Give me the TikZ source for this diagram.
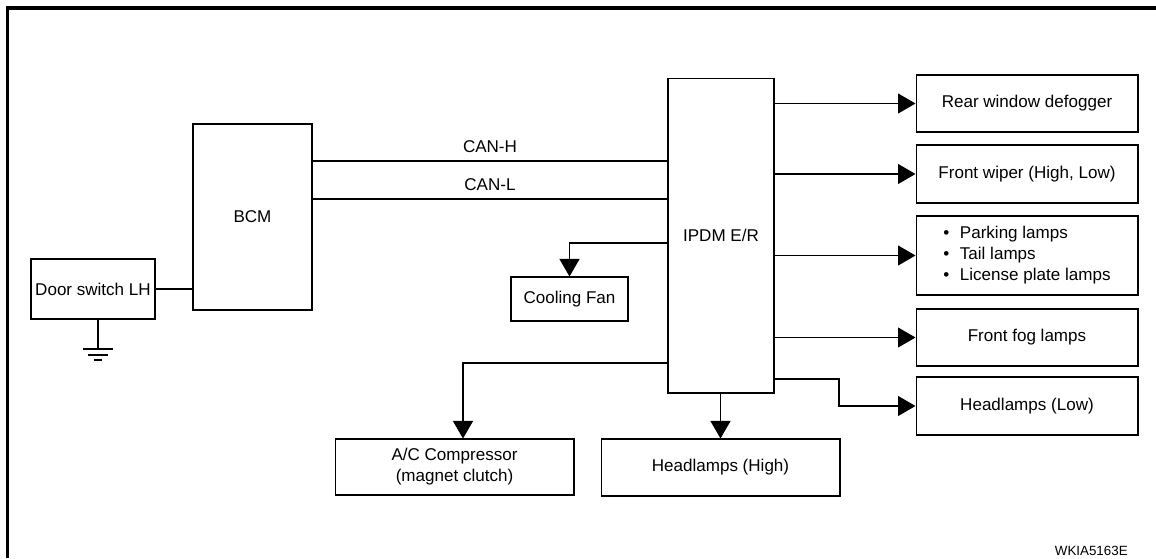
\documentclass[tikz,border=0pt]{standalone}
\usepackage{fontspec}
\setmainfont{Liberation Sans}
\usepackage{tikz}
\usetikzlibrary{arrows.meta}

\begin{document}
\begin{tikzpicture}[x=0.02cm,y=-0.02cm]
\tikzstyle{every node}=[font=\fontsize{9.7}{12}\selectfont]
\tikzstyle{box}=[draw,rectangle,inner sep=0pt,line width=0.6pt,align=center]
\tikzstyle{wire}=[line width=0.6pt]
\tikzstyle{feed}=[wire,-{Triangle[length=0.35cm,width=0.4cm]}]
\useasboundingbox (0,0) rectangle (1156,558);
\draw[line width=1.8pt] (1156,8) -- (7.5,8) -- (7.5,558);
% left side
\node[box,minimum width=2.48cm,minimum height=1.2cm] (door) at (93,289) {Door switch LH};
\node[box,minimum width=2.38cm,minimum height=3.72cm] (bcm) at (252.5,217) {BCM};
\node[box,minimum width=2.12cm,minimum height=6.3cm] (ipdm) at (721,235.5) {IPDM E/R};
\node[box,minimum width=2.34cm,minimum height=0.88cm] (fan) at (569.5,299) {Cooling Fan};
\node[box,minimum width=4.78cm,minimum height=1.12cm] (ac) at (454.5,467) {A/C Compressor\\(magnet clutch)};
\node[box,minimum width=4.78cm,minimum height=1.14cm] (high) at (720.5,467.5) {Headlamps (High)};
% right column
\node[box,minimum width=4.44cm,minimum height=1.14cm] (rear) at (1027,103.5) {Rear window defogger};
\node[box,minimum width=4.44cm,minimum height=1.16cm] (wiper) at (1027,174) {Front wiper (High, Low)};
\node[box,minimum width=4.44cm,minimum height=1.58cm,align=left] (park) at (1027,255.5)
  {\textbullet\hspace{6pt}Parking lamps\\\textbullet\hspace{6pt}Tail lamps\\\textbullet\hspace{6pt}License plate lamps};
\node[box,minimum width=4.44cm,minimum height=1.14cm] (fog) at (1027,337.5) {Front fog lamps};
\node[box,minimum width=4.44cm,minimum height=1.16cm] (low) at (1027,406) {Headlamps (Low)};
\node[anchor=east,inner sep=0pt,font=\fontsize{7.6}{9}\selectfont] (code) at (1128,551) {WKIA5163E};
\coordinate (bend) at (839,379);
\coordinate (gnd) at (98,349);
% wiring
\draw[wire] (door.east) -- (door.east -| bcm.west);
\draw[wire] (bcm.east |- 0,161) -- node[above=1pt] {CAN-H} (ipdm.west |- 0,161);
\draw[wire] (bcm.east |- 0,199) -- node[above=1pt] {CAN-L} (ipdm.west |- 0,199);
\draw[feed] (ipdm.west |- 0,243) -| (fan.north);
\draw[feed] (ipdm.west |- 0,363) -| ([xshift=0.17cm]ac.north);
\draw[feed] (ipdm.south -| high.north) -- (high.north);
\foreach \n in {rear,wiper,park,fog}
  \draw[feed] (ipdm.east |- \n.west) -- (\n.west);
\draw[feed] (ipdm.east |- bend) -- (bend) |- (low.west);
% ground
\draw[wire] (gnd |- door.south) -- (gnd);
\draw[wire] ([xshift=-0.3cm]gnd) -- ([xshift=0.3cm]gnd);
\draw[wire] ([xshift=-0.2cm,yshift=-0.12cm]gnd) -- ([xshift=0.2cm,yshift=-0.12cm]gnd);
\draw[wire] ([xshift=-0.08cm,yshift=-0.22cm]gnd) -- ([xshift=0.08cm,yshift=-0.22cm]gnd);
\end{tikzpicture}
\end{document}
